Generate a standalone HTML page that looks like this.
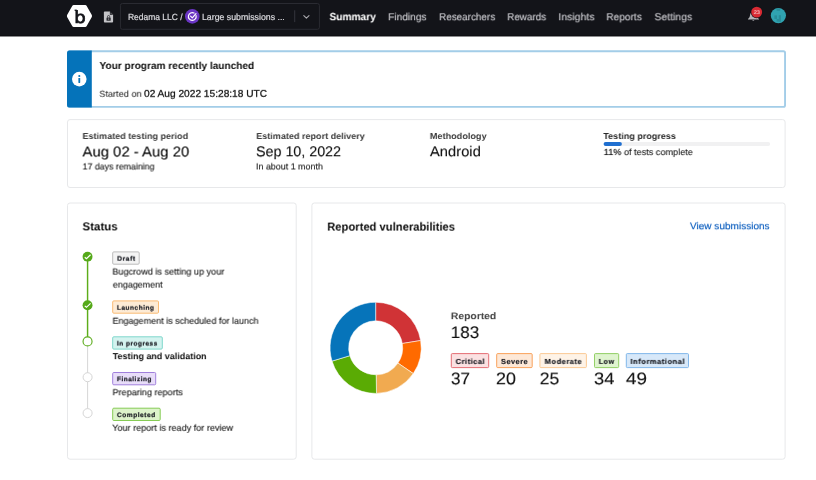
<!DOCTYPE html>
<html lang="en">
<head>
<meta charset="utf-8">
<title>Summary</title>
<style>
*{box-sizing:border-box;margin:0;padding:0}
html,body{width:816px;height:480px;overflow:hidden;background:#fff}
body{font-family:"Liberation Sans",sans-serif;color:#1a1a1a;position:relative;text-rendering:geometricPrecision}
#bg{position:absolute;left:0;top:0}
.t{position:absolute;white-space:nowrap;line-height:1;display:block}
.t>span{display:inline-block;transform-origin:0 0;white-space:nowrap}
</style>
</head>
<body>
<svg id="bg" width="816" height="480" viewBox="0 0 816 480">
  <defs>
    <filter id="s05" x="-5%" y="-40%" width="110%" height="180%" color-interpolation-filters="sRGB"><feConvolveMatrix order="4" kernelMatrix="-0.0000 -0.0625 -0.0000 -0.0000 0.0000 0.5625 0.0000 0.0000 0.0000 0.5625 0.0000 0.0000 -0.0000 -0.0625 -0.0000 -0.0000" divisor="1" targetX="2" targetY="2" edgeMode="none" preserveAlpha="false"/></filter>
    <filter id="s08" x="-5%" y="-40%" width="110%" height="180%" color-interpolation-filters="sRGB"><feConvolveMatrix order="4" kernelMatrix="-0.0000 -0.0160 -0.0000 -0.0000 0.0000 0.1680 0.0000 0.0000 0.0000 0.9120 0.0000 0.0000 -0.0000 -0.0640 -0.0000 -0.0000" divisor="1" targetX="2" targetY="2" edgeMode="none" preserveAlpha="false"/></filter>
    <filter id="s09" x="-5%" y="-40%" width="110%" height="180%" color-interpolation-filters="sRGB"><feConvolveMatrix order="4" kernelMatrix="-0.0000 -0.0045 -0.0000 -0.0000 0.0000 0.0685 0.0000 0.0000 0.0000 0.9765 0.0000 0.0000 -0.0000 -0.0405 -0.0000 -0.0000" divisor="1" targetX="2" targetY="2" edgeMode="none" preserveAlpha="false"/></filter>
    <filter id="s13" x="-5%" y="-40%" width="110%" height="180%" color-interpolation-filters="sRGB"><feConvolveMatrix order="4" kernelMatrix="0.0030 -0.0718 -0.0050 0.0003 -0.0330 0.7963 0.0559 -0.0037 -0.0117 0.2827 0.0198 -0.0013 0.0013 -0.0308 -0.0022 0.0001" divisor="1" targetX="2" targetY="2" edgeMode="none" preserveAlpha="false"/></filter>
    <filter id="s23" x="-5%" y="-40%" width="110%" height="180%" color-interpolation-filters="sRGB"><feConvolveMatrix order="4" kernelMatrix="0.0047 -0.0670 -0.0123 0.0012 -0.0522 0.7437 0.1370 -0.0130 -0.0185 0.2640 0.0486 -0.0046 0.0020 -0.0287 -0.0053 0.0005" divisor="1" targetX="2" targetY="2" edgeMode="none" preserveAlpha="false"/></filter>
    <filter id="s27" x="-5%" y="-40%" width="110%" height="180%" color-interpolation-filters="sRGB"><feConvolveMatrix order="4" kernelMatrix="0.0020 -0.0287 -0.0053 0.0005 -0.0185 0.2640 0.0486 -0.0046 -0.0522 0.7437 0.1370 -0.0130 0.0047 -0.0670 -0.0123 0.0012" divisor="1" targetX="2" targetY="2" edgeMode="none" preserveAlpha="false"/></filter>
    <filter id="s30" x="-5%" y="-40%" width="110%" height="180%" color-interpolation-filters="sRGB"><feConvolveMatrix order="4" kernelMatrix="-0.0000 0.0000 0.0000 -0.0000 -0.0735 0.8155 0.2895 -0.0315 -0.0000 0.0000 0.0000 -0.0000 -0.0000 0.0000 0.0000 -0.0000" divisor="1" targetX="2" targetY="2" edgeMode="none" preserveAlpha="false"/></filter>
    <filter id="s33" x="-5%" y="-40%" width="110%" height="180%" color-interpolation-filters="sRGB"><feConvolveMatrix order="4" kernelMatrix="0.0054 -0.0599 -0.0213 0.0023 -0.0599 0.6650 0.2361 -0.0257 -0.0213 0.2361 0.0838 -0.0091 0.0023 -0.0257 -0.0091 0.0010" divisor="1" targetX="2" targetY="2" edgeMode="none" preserveAlpha="false"/></filter>
    <filter id="s36" x="-5%" y="-40%" width="110%" height="180%" color-interpolation-filters="sRGB"><feConvolveMatrix order="4" kernelMatrix="0.0035 -0.0391 -0.0139 0.0015 -0.0312 0.3458 0.1227 -0.0134 -0.0512 0.5676 0.2015 -0.0219 0.0053 -0.0587 -0.0208 0.0023" divisor="1" targetX="2" targetY="2" edgeMode="none" preserveAlpha="false"/></filter>
    <filter id="s38" x="-5%" y="-40%" width="110%" height="180%" color-interpolation-filters="sRGB"><feConvolveMatrix order="4" kernelMatrix="0.0012 -0.0130 -0.0046 0.0005 -0.0123 0.1370 0.0486 -0.0053 -0.0670 0.7437 0.2640 -0.0287 0.0047 -0.0522 -0.0185 0.0020" divisor="1" targetX="2" targetY="2" edgeMode="none" preserveAlpha="false"/></filter>
    <filter id="s40" x="-5%" y="-40%" width="110%" height="180%" color-interpolation-filters="sRGB"><feConvolveMatrix order="4" kernelMatrix="-0.0000 0.0000 0.0000 -0.0000 -0.0720 0.6960 0.4240 -0.0480 -0.0000 0.0000 0.0000 -0.0000 -0.0000 0.0000 0.0000 -0.0000" divisor="1" targetX="2" targetY="2" edgeMode="none" preserveAlpha="false"/></filter>
    <filter id="s43" x="-5%" y="-40%" width="110%" height="180%" color-interpolation-filters="sRGB"><feConvolveMatrix order="4" kernelMatrix="0.0053 -0.0512 -0.0312 0.0035 -0.0587 0.5676 0.3458 -0.0391 -0.0208 0.2015 0.1227 -0.0139 0.0023 -0.0219 -0.0134 0.0015" divisor="1" targetX="2" targetY="2" edgeMode="none" preserveAlpha="false"/></filter>
    <filter id="s46" x="-5%" y="-40%" width="110%" height="180%" color-interpolation-filters="sRGB"><feConvolveMatrix order="4" kernelMatrix="0.0035 -0.0334 -0.0204 0.0023 -0.0305 0.2951 0.1798 -0.0204 -0.0501 0.4844 0.2951 -0.0334 0.0052 -0.0501 -0.0305 0.0035" divisor="1" targetX="2" targetY="2" edgeMode="none" preserveAlpha="false"/></filter>
    <filter id="s50" x="-5%" y="-40%" width="110%" height="180%" color-interpolation-filters="sRGB"><feConvolveMatrix order="4" kernelMatrix="-0.0000 0.0000 0.0000 -0.0000 -0.0625 0.5625 0.5625 -0.0625 -0.0000 0.0000 0.0000 -0.0000 -0.0000 0.0000 0.0000 -0.0000" divisor="1" targetX="2" targetY="2" edgeMode="none" preserveAlpha="false"/></filter>
    <filter id="s53" x="-5%" y="-40%" width="110%" height="180%" color-interpolation-filters="sRGB"><feConvolveMatrix order="4" kernelMatrix="0.0046 -0.0413 -0.0413 0.0046 -0.0510 0.4587 0.4587 -0.0510 -0.0181 0.1628 0.1628 -0.0181 0.0020 -0.0177 -0.0177 0.0020" divisor="1" targetX="2" targetY="2" edgeMode="none" preserveAlpha="false"/></filter>
    <filter id="s54" x="-5%" y="-40%" width="110%" height="180%" color-interpolation-filters="sRGB"><feConvolveMatrix order="4" kernelMatrix="0.0045 -0.0405 -0.0405 0.0045 -0.0435 0.3915 0.3915 -0.0435 -0.0265 0.2385 0.2385 -0.0265 0.0030 -0.0270 -0.0270 0.0030" divisor="1" targetX="2" targetY="2" edgeMode="none" preserveAlpha="false"/></filter>
    <filter id="s55" x="-5%" y="-40%" width="110%" height="180%" color-interpolation-filters="sRGB"><feConvolveMatrix order="4" kernelMatrix="0.0039 -0.0352 -0.0352 0.0039 -0.0352 0.3164 0.3164 -0.0352 -0.0352 0.3164 0.3164 -0.0352 0.0039 -0.0352 -0.0352 0.0039" divisor="1" targetX="2" targetY="2" edgeMode="none" preserveAlpha="false"/></filter>
    <filter id="s58" x="-5%" y="-40%" width="110%" height="180%" color-interpolation-filters="sRGB"><feConvolveMatrix order="4" kernelMatrix="0.0010 -0.0090 -0.0090 0.0010 -0.0105 0.0945 0.0945 -0.0105 -0.0570 0.5130 0.5130 -0.0570 0.0040 -0.0360 -0.0360 0.0040" divisor="1" targetX="2" targetY="2" edgeMode="none" preserveAlpha="false"/></filter>
    <filter id="s59" x="-5%" y="-40%" width="110%" height="180%" color-interpolation-filters="sRGB"><feConvolveMatrix order="4" kernelMatrix="0.0003 -0.0025 -0.0025 0.0003 -0.0043 0.0385 0.0385 -0.0043 -0.0610 0.5493 0.5493 -0.0610 0.0025 -0.0228 -0.0228 0.0025" divisor="1" targetX="2" targetY="2" edgeMode="none" preserveAlpha="false"/></filter>
    <filter id="s65" x="-5%" y="-40%" width="110%" height="180%" color-interpolation-filters="sRGB"><feConvolveMatrix order="4" kernelMatrix="0.0030 -0.0265 -0.0435 0.0045 -0.0270 0.2385 0.3915 -0.0405 -0.0270 0.2385 0.3915 -0.0405 0.0030 -0.0265 -0.0435 0.0045" divisor="1" targetX="2" targetY="2" edgeMode="none" preserveAlpha="false"/></filter>
    <filter id="s69" x="-5%" y="-40%" width="110%" height="180%" color-interpolation-filters="sRGB"><feConvolveMatrix order="4" kernelMatrix="0.0002 -0.0019 -0.0031 0.0003 -0.0033 0.0290 0.0477 -0.0049 -0.0469 0.4140 0.6796 -0.0703 0.0019 -0.0172 -0.0282 0.0029" divisor="1" targetX="2" targetY="2" edgeMode="none" preserveAlpha="false"/></filter>
    <filter id="s70" x="-5%" y="-40%" width="110%" height="180%" color-interpolation-filters="sRGB"><feConvolveMatrix order="4" kernelMatrix="-0.0000 0.0000 0.0000 -0.0000 -0.0315 0.2895 0.8155 -0.0735 -0.0000 0.0000 0.0000 -0.0000 -0.0000 0.0000 0.0000 -0.0000" divisor="1" targetX="2" targetY="2" edgeMode="none" preserveAlpha="false"/></filter>
    <filter id="s71" x="-5%" y="-40%" width="110%" height="180%" color-interpolation-filters="sRGB"><feConvolveMatrix order="4" kernelMatrix="0.0013 -0.0117 -0.0330 0.0030 -0.0308 0.2827 0.7963 -0.0718 -0.0022 0.0198 0.0559 -0.0050 0.0001 -0.0013 -0.0037 0.0003" divisor="1" targetX="2" targetY="2" edgeMode="none" preserveAlpha="false"/></filter>
    <filter id="s72" x="-5%" y="-40%" width="110%" height="180%" color-interpolation-filters="sRGB"><feConvolveMatrix order="4" kernelMatrix="0.0020 -0.0185 -0.0522 0.0047 -0.0287 0.2640 0.7437 -0.0670 -0.0053 0.0486 0.1370 -0.0123 0.0005 -0.0046 -0.0130 0.0012" divisor="1" targetX="2" targetY="2" edgeMode="none" preserveAlpha="false"/></filter>
    <filter id="s73" x="-5%" y="-40%" width="110%" height="180%" color-interpolation-filters="sRGB"><feConvolveMatrix order="4" kernelMatrix="0.0023 -0.0213 -0.0599 0.0054 -0.0257 0.2361 0.6650 -0.0599 -0.0091 0.0838 0.2361 -0.0213 0.0010 -0.0091 -0.0257 0.0023" divisor="1" targetX="2" targetY="2" edgeMode="none" preserveAlpha="false"/></filter>
    <filter id="s79" x="-5%" y="-40%" width="110%" height="180%" color-interpolation-filters="sRGB"><feConvolveMatrix order="4" kernelMatrix="0.0001 -0.0013 -0.0037 0.0003 -0.0022 0.0198 0.0559 -0.0050 -0.0308 0.2827 0.7963 -0.0718 0.0013 -0.0117 -0.0330 0.0030" divisor="1" targetX="2" targetY="2" edgeMode="none" preserveAlpha="false"/></filter>
    <filter id="s80" x="-5%" y="-40%" width="110%" height="180%" color-interpolation-filters="sRGB"><feConvolveMatrix order="4" kernelMatrix="-0.0000 0.0000 0.0000 -0.0000 -0.0160 0.1680 0.9120 -0.0640 -0.0000 0.0000 0.0000 -0.0000 -0.0000 0.0000 0.0000 -0.0000" divisor="1" targetX="2" targetY="2" edgeMode="none" preserveAlpha="false"/></filter>
    <filter id="s81" x="-5%" y="-40%" width="110%" height="180%" color-interpolation-filters="sRGB"><feConvolveMatrix order="4" kernelMatrix="0.0006 -0.0068 -0.0369 0.0026 -0.0156 0.1641 0.8906 -0.0625 -0.0011 0.0115 0.0625 -0.0044 0.0001 -0.0008 -0.0041 0.0003" divisor="1" targetX="2" targetY="2" edgeMode="none" preserveAlpha="false"/></filter>
    <filter id="s82" x="-5%" y="-40%" width="110%" height="180%" color-interpolation-filters="sRGB"><feConvolveMatrix order="4" kernelMatrix="0.0010 -0.0108 -0.0584 0.0041 -0.0146 0.1532 0.8317 -0.0584 -0.0027 0.0282 0.1532 -0.0108 0.0003 -0.0027 -0.0146 0.0010" divisor="1" targetX="2" targetY="2" edgeMode="none" preserveAlpha="false"/></filter>
    <filter id="s86" x="-5%" y="-40%" width="110%" height="180%" color-interpolation-filters="sRGB"><feConvolveMatrix order="4" kernelMatrix="0.0008 -0.0081 -0.0438 0.0031 -0.0068 0.0712 0.3867 -0.0271 -0.0111 0.1169 0.6348 -0.0445 0.0012 -0.0121 -0.0657 0.0046" divisor="1" targetX="2" targetY="2" edgeMode="none" preserveAlpha="false"/></filter>
    <filter id="s91" x="-5%" y="-40%" width="110%" height="180%" color-interpolation-filters="sRGB"><feConvolveMatrix order="4" kernelMatrix="0.0002 -0.0028 -0.0395 0.0016 -0.0044 0.0669 0.9536 -0.0395 -0.0003 0.0047 0.0669 -0.0028 0.0000 -0.0003 -0.0044 0.0002" divisor="1" targetX="2" targetY="2" edgeMode="none" preserveAlpha="false"/></filter>
    <filter id="s93" x="-5%" y="-40%" width="110%" height="180%" color-interpolation-filters="sRGB"><feConvolveMatrix order="4" kernelMatrix="0.0003 -0.0050 -0.0718 0.0030 -0.0037 0.0559 0.7963 -0.0330 -0.0013 0.0198 0.2827 -0.0117 0.0001 -0.0022 -0.0308 0.0013" divisor="1" targetX="2" targetY="2" edgeMode="none" preserveAlpha="false"/></filter>
    <filter id="s96" x="-5%" y="-40%" width="110%" height="180%" color-interpolation-filters="sRGB"><feConvolveMatrix order="4" kernelMatrix="0.0002 -0.0033 -0.0469 0.0019 -0.0019 0.0290 0.4140 -0.0172 -0.0031 0.0477 0.6796 -0.0282 0.0003 -0.0049 -0.0703 0.0029" divisor="1" targetX="2" targetY="2" edgeMode="none" preserveAlpha="false"/></filter>
    <filter id="s98" x="-5%" y="-40%" width="110%" height="180%" color-interpolation-filters="sRGB"><feConvolveMatrix order="4" kernelMatrix="0.0001 -0.0011 -0.0156 0.0006 -0.0008 0.0115 0.1641 -0.0068 -0.0041 0.0625 0.8906 -0.0369 0.0003 -0.0044 -0.0625 0.0026" divisor="1" targetX="2" targetY="2" edgeMode="none" preserveAlpha="false"/></filter>
    <linearGradient id="sh" x1="0" y1="0" x2="0" y2="1"><stop offset="0" stop-color="#000" stop-opacity=".12"/><stop offset="1" stop-color="#000" stop-opacity="0"/></linearGradient>
    <g id="chk"><circle cx="0" cy="0" r="4.95" fill="#55a91a"/><path d="M-2.8 0.6 L-1.1 2.0 L3.0 -1.9" fill="none" stroke="#fff" stroke-width="1.15" stroke-linecap="butt" stroke-linejoin="miter"/></g>
  </defs>
  <!-- header -->
  <rect x="0" y="0" width="816" height="36.46" fill="#050609"/>
  <rect x="0" y="0" width="816" height="35.7" fill="#131419"/>
  <!-- logo -->
  <g transform="translate(66.7,5.1)">
    <path d="M7 0 L18.5 0 Q19.5 0 20 0.9 L25.1 10 Q25.5 10.9 25.1 11.8 L20 20.9 Q19.5 21.8 18.5 21.8 L7 21.8 Q6 21.8 5.5 20.9 L0.4 11.8 Q0 10.9 0.4 10 L5.5 0.9 Q6 0 7 0 Z" fill="#fff"/>
    <text transform="translate(7.5,17.4) scale(1.05,0.96)" font-family="DejaVu Sans, Liberation Sans, sans-serif" font-weight="400" font-size="17.2" fill="#131419" stroke="#131419" stroke-width=".75">b</text>
    <rect x="7.9" y="4.5" width="2.2" height="1.3" fill="#131419"/>
  </g>
  <!-- doc icon -->
  <g transform="translate(103.7,11.4)">
    <path d="M1 0.2 H6.2 L9.4 3.4 V10.2 Q9.4 11.1 8.5 11.1 H1 Q0.2 11.1 0.2 10.2 V1 Q0.2 0.2 1 0.2 Z" fill="#c4c4c7"/>
    <path d="M6.2 0.2 V3.4 H9.4 Z" fill="#131419"/>
    <path d="M6.9 1.7 V2.7 H7.9 Z" fill="#c4c4c7"/>
    <rect x="2.8" y="6.1" width="4.2" height="3.2" rx=".5" fill="#2a2b31"/>
    <path d="M3.8 6.2 V5.2 Q3.8 4.1 4.9 4.1 Q6 4.1 6 5.2 V6.2" fill="none" stroke="#2a2b31" stroke-width=".8"/>
    <circle cx="4.9" cy="7.6" r=".6" fill="#c4c4c7"/>
  </g>
  <!-- selector -->
  <rect x="120.4" y="3.5" width="199" height="25.8" rx="2" fill="none" stroke="#2a2b32" stroke-width="1"/>
  <g transform="translate(185,9.1)">
    <circle cx="7.3" cy="7.3" r="7.3" fill="#6a35c4"/>
    <path d="M11.1 6.6 A3.9 3.9 0 1 1 9 3.9" fill="none" stroke="#fff" stroke-width="1.2" stroke-linecap="round"/>
    <path d="M5.6 7 L7.3 8.7 L11 4.5" fill="none" stroke="#fff" stroke-width="1.2" stroke-linecap="round" stroke-linejoin="round"/>
  </g>
  <rect x="294.2" y="10.3" width="1" height="11.8" fill="#35363d"/>
  <path d="M303.8 15.6 L306.4 18.2 L309 15.6" fill="none" stroke="#a9a9ae" stroke-width="1.1" stroke-linecap="round" stroke-linejoin="round"/>
  <!-- bell + badge + avatar -->
  <g transform="translate(747.4,11)">
    <path d="M5.6 0.8 Q8.6 1.2 8.8 4.6 Q8.9 6.6 11.6 7.9 V8.5 H0.6 V7.9 Q2.6 6.6 2.6 4.6 Q2.8 1.2 5.6 0.8 Z" fill="#b4b4b8"/>
    <path d="M4.7 9 Q5.9 10.6 7.1 9 Z" fill="#b4b4b8"/>
  </g>
  <circle cx="756.7" cy="12.1" r="6.1" fill="#131419"/>
  <circle cx="756.7" cy="12.1" r="5.45" fill="#d92a33"/>
  <circle cx="778.4" cy="15.6" r="7.6" fill="#30a3b1"/>
  <rect x="776.6" y="8.4" width="3.6" height="2.4" fill="#288d9a"/>
  <rect x="774.4" y="15.4" width="2.6" height="3.6" fill="#288d9a"/>
  <rect x="778.8" y="15.2" width="2.2" height="6.6" fill="#288d9a"/>
  <rect x="776.6" y="19" width="2.4" height="2.6" fill="#288d9a"/>
  <!-- alert -->
  <rect x="67.95" y="51.3" width="717.1" height="55.6" rx="1.6" fill="#fff" stroke="#a3cde8" stroke-width="1.9"/>
  <path d="M69.5 50.5 H91.8 V107.5 H69.5 Q67 107.5 67 105 V53 Q67 50.5 69.5 50.5 Z" fill="#0573ba"/>
  <circle cx="79.3" cy="79.1" r="7.3" fill="#fff"/>
  <circle cx="79.3" cy="76" r="1.05" fill="#0573ba"/>
  <rect x="78.4" y="78" width="1.8" height="5" rx=".4" fill="#0573ba"/>
  <!-- stats panel -->
  <rect x="67.5" y="119.6" width="717.6" height="67.9" rx="2.5" fill="#fff" stroke="#e7e8ea" stroke-width="1"/>
  <rect x="603.6" y="142" width="166.6" height="4" rx="2" fill="#f1f1f2"/>
  <rect x="603.6" y="142" width="18.3" height="4" rx="2" fill="#1f6fd0"/>
  <!-- status panel -->
  <rect x="67.5" y="203" width="228.7" height="256.2" rx="2.5" fill="#fff" stroke="#e7e8ea" stroke-width="1"/>
  <rect x="86.85" y="258" width="1.45" height="80" fill="#5cad1a"/>
  <rect x="87.1" y="346" width="1" height="63" fill="#d6d6d6"/>
  <use href="#chk" x="87.55" y="256.65"/>
  <use href="#chk" x="87.55" y="305.3"/>
  <circle cx="87.55" cy="341.4" r="4.5" fill="#fff" stroke="#60ae22" stroke-width="1.15"/>
  <circle cx="87.6" cy="377.2" r="4.5" fill="#fff" stroke="#d6d6d6" stroke-width="1"/>
  <circle cx="87.6" cy="413.1" r="4.5" fill="#fff" stroke="#d6d6d6" stroke-width="1"/>
  <rect x="112.7" y="251.9" width="26.5" height="12.3" rx="1.1" fill="#f4f4f4" stroke="#bcbcbc" stroke-width="1"/>
  <rect x="112.7" y="300.9" width="45.8" height="12.3" rx="1.1" fill="#fdebd5" stroke="#fabb74" stroke-width="1"/>
  <rect x="112.7" y="336.8" width="49.6" height="12.3" rx="1.1" fill="#d4f3ef" stroke="#7fd7cc" stroke-width="1"/>
  <rect x="112.7" y="372.5" width="43" height="12.3" rx="1.1" fill="#e8ddf9" stroke="#a07fdc" stroke-width="1"/>
  <rect x="112.7" y="408.2" width="47.5" height="12.3" rx="1.1" fill="#ddf3cb" stroke="#86cb54" stroke-width="1"/>
  <!-- vuln panel -->
  <rect x="311.9" y="203" width="473.2" height="256.2" rx="2.5" fill="#fff" stroke="#e7e8ea" stroke-width="1"/>
  <g transform="translate(375.65,347.85)" stroke="#fff" stroke-width=".55" stroke-linejoin="round">
    <path fill="#d03336" d="M0.00 -45.60 A45.6 45.6 0 0 1 45.00 -7.35 L26.65 -4.35 A27.0 27.0 0 0 0 0.00 -27.00 Z"/>
    <path fill="#ff6a00" d="M45.00 -7.35 A45.6 45.6 0 0 1 37.64 25.74 L22.29 15.24 A27.0 27.0 0 0 0 26.65 -4.35 Z"/>
    <path fill="#f1aa50" d="M37.64 25.74 A45.6 45.6 0 0 1 0.87 45.59 L0.51 27.00 A27.0 27.0 0 0 0 22.29 15.24 Z"/>
    <path fill="#5aab04" d="M0.87 45.59 A45.6 45.6 0 0 1 -43.63 13.26 L-25.83 7.85 A27.0 27.0 0 0 0 0.51 27.00 Z"/>
    <path fill="#0674ba" d="M-43.63 13.26 A45.6 45.6 0 0 1 -0.00 -45.60 L-0.00 -27.00 A27.0 27.0 0 0 0 -25.83 7.85 Z"/>
  </g>
  <rect x="451.3" y="353.6" width="37.4" height="14" rx="1" fill="#fbe1e2" stroke="#e15f66" stroke-width=".9"/>
  <rect x="496.7" y="353.6" width="35.5" height="14" rx="1" fill="#fde8d7" stroke="#f8984c" stroke-width=".9"/>
  <rect x="539.9" y="353.6" width="46.5" height="14" rx="1" fill="#fef3e7" stroke="#fac48a" stroke-width=".9"/>
  <rect x="594.5" y="353.6" width="24.2" height="14" rx="1" fill="#dff4cf" stroke="#88cb57" stroke-width=".9"/>
  <rect x="626.3" y="353.6" width="62.2" height="14" rx="1" fill="#d7e8f9" stroke="#76b0e8" stroke-width=".9"/>
</svg>
<div class="t" id="h_org" style="left:128px;top:13px;font-size:8.9px;font-weight:400;color:#dcdce0;-webkit-text-stroke:.2px #dcdce0;"><span style="transform:scaleX(0.9525)">Redama LLC /</span></div>
<div class="t" id="h_prog" style="left:202px;top:13px;font-size:8.9px;font-weight:400;color:#dcdce0;-webkit-text-stroke:.2px #dcdce0;"><span style="transform:scaleX(0.9872)">Large submissions ...</span></div>
<div class="t" id="n_sum" style="left:329px;top:12px;font-size:10.6px;font-weight:700;color:#ffffff;filter:url(#s53);"><span style="transform:scaleX(0.9608)">Summary</span></div>
<div class="t" id="n_fin" style="left:388px;top:13px;font-size:10.2px;font-weight:400;color:#c3c3c8;filter:url(#s23);-webkit-text-stroke:.15px #c3c3c8;"><span style="transform:scaleX(0.9987)">Findings</span></div>
<div class="t" id="n_res" style="left:439px;top:13px;font-size:10.2px;font-weight:400;color:#c3c3c8;filter:url(#s23);-webkit-text-stroke:.15px #c3c3c8;"><span style="transform:scaleX(0.9717)">Researchers</span></div>
<div class="t" id="n_rew" style="left:507px;top:13px;font-size:10.2px;font-weight:400;color:#c3c3c8;filter:url(#s33);-webkit-text-stroke:.15px #c3c3c8;"><span style="transform:scaleX(0.9692)">Rewards</span></div>
<div class="t" id="n_ins" style="left:558px;top:13px;font-size:10.2px;font-weight:400;color:#c3c3c8;filter:url(#s43);-webkit-text-stroke:.15px #c3c3c8;"><span style="transform:scaleX(1.0311)">Insights</span></div>
<div class="t" id="n_rep" style="left:606px;top:13px;font-size:10.2px;font-weight:400;color:#c3c3c8;filter:url(#s43);-webkit-text-stroke:.15px #c3c3c8;"><span style="transform:scaleX(0.9949)">Reports</span></div>
<div class="t" id="n_set" style="left:654px;top:13px;font-size:10.2px;font-weight:400;color:#c3c3c8;filter:url(#s53);-webkit-text-stroke:.15px #c3c3c8;"><span style="transform:scaleX(1.0230)">Settings</span></div>
<div class="t" id="n_cnt" style="left:753px;top:11px;font-size:5.6px;font-weight:700;color:#f3b9bc;filter:url(#s81);"><span style="transform:scaleX(0.9739)">23</span></div>
<div class="t" id="a_title" style="left:99px;top:62px;font-size:10.1px;font-weight:700;color:#111;filter:url(#s50);"><span style="transform:scaleX(1.0010)">Your program recently launched</span></div>
<div class="t" id="a_start" style="left:99px;top:89px;font-size:8.8px;font-weight:400;color:#3c3c3c;filter:url(#s38);-webkit-text-stroke:.12px #3c3c3c;"><span style="transform:scaleX(1.0440)">Started on</span></div>
<div class="t" id="a_date" style="left:144px;top:89px;font-size:9.9px;font-weight:400;color:#111;filter:url(#s08);-webkit-text-stroke:.25px #111;"><span style="transform:scaleX(1.0285)">02 Aug 2022 15:28:18 UTC</span></div>
<div class="t" id="s1l" style="left:82px;top:132px;font-size:8.7px;font-weight:700;color:#3d3d3d;filter:url(#s50);"><span style="transform:scaleX(1.0424)">Estimated testing period</span></div>
<div class="t" id="s1b" style="left:82px;top:145px;font-size:14.3px;font-weight:400;color:#111;filter:url(#s55);-webkit-text-stroke:.1px #111;"><span style="transform:scaleX(1.0412)">Aug 02 - Aug 20</span></div>
<div class="t" id="s1s" style="left:82px;top:162px;font-size:8.8px;font-weight:400;color:#2e2e2e;filter:url(#s65);-webkit-text-stroke:.16px #2e2e2e;"><span style="transform:scaleX(0.9993)">17 days remaining</span></div>
<div class="t" id="s2l" style="left:256px;top:132px;font-size:8.7px;font-weight:700;color:#3d3d3d;filter:url(#s30);"><span style="transform:scaleX(1.0419)">Estimated report delivery</span></div>
<div class="t" id="s2b" style="left:256px;top:145px;font-size:14.3px;font-weight:400;color:#111;filter:url(#s13);-webkit-text-stroke:.1px #111;"><span style="transform:scaleX(0.9994)">Sep 10, 2022</span></div>
<div class="t" id="s2s" style="left:256px;top:162px;font-size:8.8px;font-weight:400;color:#2e2e2e;filter:url(#s05);-webkit-text-stroke:.16px #2e2e2e;"><span style="transform:scaleX(1.0131)">In about 1 month</span></div>
<div class="t" id="s3l" style="left:429px;top:132px;font-size:8.7px;font-weight:700;color:#3d3d3d;filter:url(#s80);"><span style="transform:scaleX(1.0492)">Methodology</span></div>
<div class="t" id="s3b" style="left:429px;top:145px;font-size:14.3px;font-weight:400;color:#111;filter:url(#s93);-webkit-text-stroke:.1px #111;"><span style="transform:scaleX(1.0315)">Android</span></div>
<div class="t" id="s4l" style="left:603px;top:132px;font-size:8.7px;font-weight:700;color:#2a2a2a;filter:url(#s40);"><span style="transform:scaleX(1.0388)">Testing progress</span></div>
<div class="t" id="s4s" style="left:603px;top:148px;font-size:8.8px;font-weight:400;color:#2e2e2e;filter:url(#s71);-webkit-text-stroke:.16px #2e2e2e;"><span style="transform:scaleX(1.0376)"><span style="color:#1c1c1c;-webkit-text-stroke:.2px #1c1c1c">11%</span> of tests complete</span></div>
<div class="t" id="st_h" style="left:82px;top:221px;font-size:11.6px;font-weight:700;color:#111;filter:url(#s54);"><span style="transform:scaleX(0.9935)">Status</span></div>
<div class="t" id="d1" style="left:112px;top:267px;font-size:8.8px;font-weight:400;color:#2e2e2e;filter:url(#s46);-webkit-text-stroke:.16px #2e2e2e;"><span style="transform:scaleX(1.0366)">Bugcrowd is setting up your</span></div>
<div class="t" id="d1b" style="left:112px;top:280px;font-size:8.8px;font-weight:400;color:#2e2e2e;filter:url(#s86);-webkit-text-stroke:.16px #2e2e2e;"><span style="transform:scaleX(1.0159)">engagement</span></div>
<div class="t" id="d2" style="left:112px;top:316px;font-size:8.8px;font-weight:400;color:#2e2e2e;filter:url(#s58);-webkit-text-stroke:.16px #2e2e2e;"><span style="transform:scaleX(1.0265)">Engagement is scheduled for launch</span></div>
<div class="t" id="d3" style="left:112px;top:352px;font-size:8.9px;font-weight:700;color:#111;filter:url(#s72);"><span style="transform:scaleX(1.0084)">Testing and validation</span></div>
<div class="t" id="d4" style="left:112px;top:388px;font-size:8.8px;font-weight:400;color:#2e2e2e;filter:url(#s53);-webkit-text-stroke:.16px #2e2e2e;"><span style="transform:scaleX(1.0339)">Preparing reports</span></div>
<div class="t" id="d5" style="left:112px;top:423px;font-size:8.8px;font-weight:400;color:#2e2e2e;filter:url(#s38);-webkit-text-stroke:.16px #2e2e2e;"><span style="transform:scaleX(1.0333)">Your report is ready for review</span></div>
<div class="t" id="rv_h" style="left:327px;top:221px;font-size:11.6px;font-weight:700;color:#111;filter:url(#s36);"><span style="transform:scaleX(0.9673)">Reported vulnerabilities</span></div>
<div class="t" id="rv_l" style="left:689px;top:222px;font-size:9.8px;font-weight:400;color:#1463c0;filter:url(#s93);-webkit-text-stroke:.18px #1463c0;"><span style="transform:scaleX(1.0249)">View submissions</span></div>
<div class="t" id="r_l" style="left:450px;top:312px;font-size:9.6px;font-weight:700;color:#444;filter:url(#s82);"><span style="transform:scaleX(1.0789)">Reported</span></div>
<div class="t" id="r_n" style="left:450px;top:325px;font-size:16.8px;font-weight:400;color:#111;filter:url(#s70);-webkit-text-stroke:.1px #111;"><span style="transform:scaleX(1.0144)">183</span></div>
<div class="t" id="c1" style="left:450px;top:371px;font-size:16.8px;font-weight:400;color:#111;filter:url(#s93);-webkit-text-stroke:.1px #111;"><span style="transform:scaleX(1.0261)">37</span></div>
<div class="t" id="c2" style="left:495px;top:371px;font-size:16.8px;font-weight:400;color:#111;filter:url(#s93);-webkit-text-stroke:.1px #111;"><span style="transform:scaleX(1.0763)">20</span></div>
<div class="t" id="c3" style="left:539px;top:371px;font-size:16.8px;font-weight:400;color:#111;filter:url(#s73);-webkit-text-stroke:.1px #111;"><span style="transform:scaleX(1.0435)">25</span></div>
<div class="t" id="c4" style="left:593px;top:371px;font-size:16.8px;font-weight:400;color:#111;filter:url(#s93);-webkit-text-stroke:.1px #111;"><span style="transform:scaleX(1.1007)">34</span></div>
<div class="t" id="c5" style="left:625px;top:371px;font-size:16.8px;font-weight:400;color:#111;filter:url(#s93);-webkit-text-stroke:.1px #111;"><span style="transform:scaleX(1.1348)">49</span></div>
<div class="t" id="b1" style="left:117px;top:256px;font-size:6.6px;font-weight:700;color:#1b1d24;filter:url(#s27);letter-spacing:.5px;-webkit-text-stroke:.2px #1b1d24;"><span style="transform:scaleX(1.0353)">Draft</span></div>
<div class="t" id="b2" style="left:116px;top:305px;font-size:6.6px;font-weight:700;color:#1b1d24;filter:url(#s98);letter-spacing:.5px;-webkit-text-stroke:.2px #1b1d24;"><span style="transform:scaleX(0.9911)">Launching</span></div>
<div class="t" id="b3" style="left:116px;top:341px;font-size:6.6px;font-weight:700;color:#1b1d24;filter:url(#s96);letter-spacing:.5px;-webkit-text-stroke:.2px #1b1d24;"><span style="transform:scaleX(0.9858)">In progress</span></div>
<div class="t" id="b4" style="left:116px;top:377px;font-size:6.6px;font-weight:700;color:#1b1d24;filter:url(#s93);letter-spacing:.5px;-webkit-text-stroke:.2px #1b1d24;"><span style="transform:scaleX(0.9839)">Finalizing</span></div>
<div class="t" id="b5" style="left:116px;top:413px;font-size:6.6px;font-weight:700;color:#1b1d24;filter:url(#s91);letter-spacing:.5px;-webkit-text-stroke:.2px #1b1d24;"><span style="transform:scaleX(1.0047)">Completed</span></div>
<div class="t" id="v1" style="left:455px;top:357px;font-size:7.2px;font-weight:700;color:#1b1d24;filter:url(#s69);letter-spacing:.45px;-webkit-text-stroke:.2px #1b1d24;"><span style="transform:scaleX(1.0530)">Critical</span></div>
<div class="t" id="v2" style="left:501px;top:357px;font-size:7.2px;font-weight:700;color:#1b1d24;filter:url(#s09);letter-spacing:.45px;-webkit-text-stroke:.2px #1b1d24;"><span style="transform:scaleX(1.0302)">Severe</span></div>
<div class="t" id="v3" style="left:544px;top:357px;font-size:7.2px;font-weight:700;color:#1b1d24;filter:url(#s69);letter-spacing:.45px;-webkit-text-stroke:.2px #1b1d24;"><span style="transform:scaleX(1.0542)">Moderate</span></div>
<div class="t" id="v4" style="left:598px;top:357px;font-size:7.2px;font-weight:700;color:#1b1d24;filter:url(#s79);letter-spacing:.45px;-webkit-text-stroke:.2px #1b1d24;"><span style="transform:scaleX(0.9967)">Low</span></div>
<div class="t" id="v5" style="left:630px;top:357px;font-size:7.2px;font-weight:700;color:#1b1d24;filter:url(#s59);letter-spacing:.45px;-webkit-text-stroke:.2px #1b1d24;"><span style="transform:scaleX(1.0607)">Informational</span></div>
</body>
</html>
